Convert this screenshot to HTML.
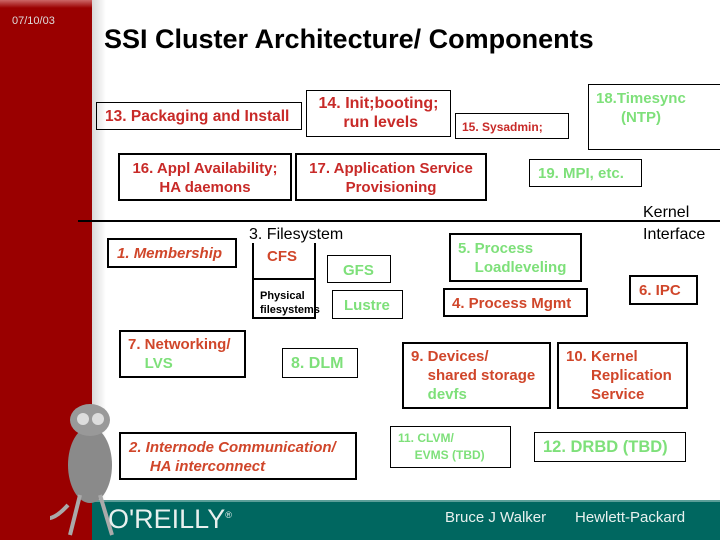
<!DOCTYPE html>
<html><head><meta charset="utf-8"><style>
body{margin:0;width:720px;height:540px;position:relative;overflow:hidden;background:#fff;font-family:"Liberation Sans",Arial,sans-serif}
.a{position:absolute}
.b{position:absolute;border:2px solid #000;box-sizing:border-box;font-weight:bold;font-size:15px;line-height:19px;white-space:nowrap}
.t{border-width:1px}
.r{color:#c82a28}.o{color:#d0462a}.g{color:#7ee07a}
</style></head><body>
<div class="a" style="left:0;top:0;width:92px;height:540px;background:#9a0000"></div>
<div class="a" style="left:92px;top:0;width:14px;height:500px;background:linear-gradient(90deg,#d8d8d8,#fff)"></div>
<div class="a" style="left:0;top:0;width:92px;height:8px;background:linear-gradient(180deg,#c66,#9a0000)"></div>
<div class="a" style="left:92px;top:501px;width:628px;height:39px;background:#006760"></div>
<div class="a" style="left:92px;top:500px;width:628px;height:2px;background:#5a9e98"></div>
<div class="a" style="left:12px;top:15px;color:#ddd;font-size:11px">07/10/03</div>
<div class="a" style="left:104px;top:24px;font-size:27px;font-weight:bold">SSI Cluster Architecture/ Components</div>
<div class="b t r" style="left:96px;top:102px;width:206px;height:28px;font-size:15.5px;padding:4px 0 0 8px">13. Packaging and Install</div>
<div class="b t r" style="left:306px;top:90px;width:145px;height:47px;font-size:16px;text-align:center;padding-top:3px">14. Init;booting;<br>&nbsp;run levels</div>
<div class="b t r" style="left:455px;top:113px;width:114px;height:26px;font-size:12px;padding:4px 0 0 6px">15. Sysadmin;</div>
<div class="b t g" style="left:588px;top:84px;width:140px;height:66px;font-size:15px;padding:4px 0 0 7px">18.Timesync<br>&nbsp;&nbsp;&nbsp;&nbsp;&nbsp;&nbsp;(NTP)</div>
<div class="b r" style="left:118px;top:153px;width:174px;height:48px;text-align:center;padding-top:4px">16. Appl Availability;<br>HA daemons</div>
<div class="b r" style="left:295px;top:153px;width:192px;height:48px;text-align:center;padding-top:4px">17. Application Service<br>Provisioning</div>
<div class="b t g" style="left:529px;top:159px;width:113px;height:28px;padding:4px 0 0 8px">19. MPI, etc.</div>
<div class="a" style="left:78px;top:220px;width:642px;height:2px;background:#000"></div>
<div class="a" style="left:643px;top:202px;font-size:16px;line-height:22px">Kernel<br>Interface</div>
<div class="b o" style="left:107px;top:238px;width:130px;height:30px;font-style:italic;padding:4px 0 0 8px">1. <span>Membership</span></div>
<div class="a" style="left:249px;top:226px;font-size:16px">3. Filesystem</div>
<div class="b o" style="left:252px;top:243px;width:64px;height:37px;border-top:none;padding:4px 0 0 13px">CFS</div>
<div class="b" style="left:252px;top:278px;width:64px;height:41px;font-size:11px;line-height:14px;padding:9px 0 0 6px">Physical<br>filesystems</div>
<div class="b t g" style="left:327px;top:255px;width:64px;height:28px;padding:5px 0 0 15px">GFS</div>
<div class="b t g" style="left:332px;top:290px;width:71px;height:29px;padding:5px 0 0 11px">Lustre</div>
<div class="b g" style="left:449px;top:233px;width:133px;height:49px;padding:4px 0 0 7px">5. Process<br>&nbsp;&nbsp;&nbsp;&nbsp;Loadleveling</div>
<div class="b o" style="left:443px;top:288px;width:145px;height:29px;padding:4px 0 0 7px">4. Process Mgmt</div>
<div class="b o" style="left:629px;top:275px;width:69px;height:30px;padding:4px 0 0 8px">6. IPC</div>
<div class="b o" style="left:119px;top:330px;width:127px;height:48px;padding:3px 0 0 7px">7. Networking/<br>&nbsp;&nbsp;&nbsp;&nbsp;<span class="g">LVS</span></div>
<div class="b t g" style="left:282px;top:348px;width:76px;height:30px;font-size:16px;padding:5px 0 0 8px">8. DLM</div>
<div class="b o" style="left:402px;top:342px;width:149px;height:67px;padding:3px 0 0 7px">9. Devices/<br>&nbsp;&nbsp;&nbsp;&nbsp;shared storage<br>&nbsp;&nbsp;&nbsp;&nbsp;<span class="g">devfs</span></div>
<div class="b o" style="left:557px;top:342px;width:131px;height:67px;padding:3px 0 0 7px">10. Kernel<br>&nbsp;&nbsp;&nbsp;&nbsp;&nbsp;&nbsp;Replication<br>&nbsp;&nbsp;&nbsp;&nbsp;&nbsp;&nbsp;Service</div>
<div class="b o" style="left:119px;top:432px;width:238px;height:48px;font-style:italic;padding:4px 0 0 8px">2. Internode Communication/<br>&nbsp;&nbsp;&nbsp;&nbsp;&nbsp;HA interconnect</div>
<div class="b t g" style="left:390px;top:426px;width:121px;height:42px;font-size:12px;line-height:17px;padding:3px 0 0 7px">11. CLVM/<br>&nbsp;&nbsp;&nbsp;&nbsp;&nbsp;EVMS (TBD)</div>
<div class="b t g" style="left:534px;top:432px;width:152px;height:30px;font-size:16.5px;padding:5px 0 0 8px">12. DRBD (TBD)</div>
<svg class="a" style="left:50px;top:395px" width="80" height="145" viewBox="0 0 80 145">
<ellipse cx="40" cy="70" rx="22" ry="38" fill="#8a8a8a"/>
<ellipse cx="40" cy="25" rx="20" ry="16" fill="#999"/>
<circle cx="33" cy="24" r="6" fill="#ddd"/><circle cx="48" cy="24" r="6" fill="#ddd"/>
<path d="M30 100 L20 140 M50 100 L62 140 M18 110 Q0 130 -10 120" stroke="#aaa" stroke-width="4" fill="none"/>
</svg>
<div class="a" style="left:108px;top:504px;color:#e8f0ee;font-size:27px">O'REILLY<sup style="font-size:9px">®</sup></div>
<div class="a" style="left:445px;top:509px;color:#e8f0ee;font-size:15px">Bruce J Walker</div>
<div class="a" style="left:575px;top:509px;color:#e8f0ee;font-size:15px">Hewlett-Packard</div>
</body></html>
